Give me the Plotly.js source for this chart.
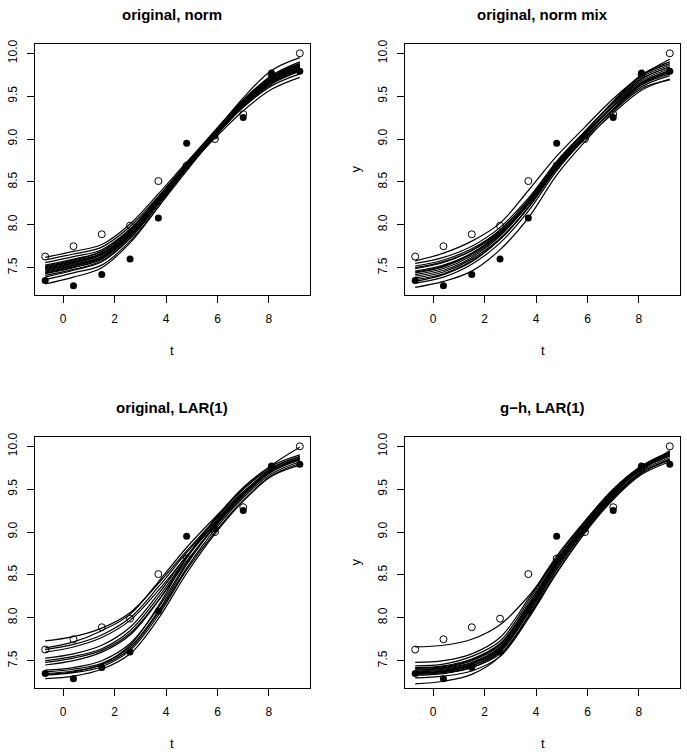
<!DOCTYPE html>
<html>
<head>
<meta charset="utf-8">
<script src="https://cdn.plot.ly/plotly-3.0.1.min.js"></script>
<style>html,body{margin:0;padding:0;background:#fff;}#chart{width:687px;height:754px;}</style>
</head>
<body>
<div id="chart"></div>
<script>
// Observation times
const t = [-0.7, 0.4, 1.5, 2.6, 3.7, 4.8, 5.9, 7.0, 8.1, 9.2];
// Open circles (series 1) and filled circles (series 2)
const openY   = [7.63, 7.75, 7.89, 7.99, 8.51, 8.69, 9.00, 9.29, 9.75, 10.00];
const filledY = [7.35, 7.29, 7.42, 7.60, 8.08, 8.95, 9.04, 9.25, 9.77, 9.79];

const panelTitles = ["original, norm", "original, norm mix", "original, LAR(1)", "g\u2212h, LAR(1)"];
const xTickVals = [0, 2, 4, 6, 8];
const yTickVals = [7.5, 8.0, 8.5, 9.0, 9.5, 10.0];
const yTickText = ["7.5", "8.0", "8.5", "9.0", "9.5", "10.0"];

// Fitted curves read at the observation times, panel by panel
const curvesNorm = [
  [7.62,7.69,7.77,8.01,8.36,8.73,9.08,9.41,9.66,9.80],
  [7.59,7.66,7.74,7.98,8.33,8.70,9.04,9.37,9.62,9.76],
  [7.56,7.63,7.71,7.95,8.29,8.66,9.01,9.33,9.58,9.72],
  [7.53,7.60,7.69,7.94,8.31,8.70,9.06,9.41,9.67,9.82],
  [7.51,7.58,7.67,7.93,8.31,8.70,9.08,9.43,9.70,9.85],
  [7.49,7.56,7.65,7.91,8.29,8.68,9.06,9.41,9.68,9.83],
  [7.48,7.55,7.65,7.91,8.29,8.70,9.08,9.44,9.72,9.87],
  [7.46,7.53,7.63,7.89,8.27,8.67,9.06,9.41,9.69,9.84],
  [7.45,7.52,7.62,7.88,8.25,8.65,9.03,9.39,9.66,9.81],
  [7.43,7.50,7.60,7.87,8.26,8.68,9.07,9.44,9.73,9.88],
  [7.41,7.48,7.58,7.85,8.24,8.66,9.05,9.42,9.71,9.86],
  [7.39,7.47,7.57,7.84,8.24,8.67,9.07,9.45,9.74,9.90],
  [7.36,7.44,7.53,7.81,8.21,8.63,9.03,9.40,9.69,9.85],
  [7.31,7.39,7.50,7.79,8.21,8.66,9.08,9.48,9.80,9.95],
  [7.47,7.54,7.63,7.89,8.26,8.66,9.03,9.38,9.65,9.80],
  [7.50,7.57,7.66,7.91,8.28,8.67,9.03,9.38,9.64,9.79],
  [7.44,7.51,7.61,7.87,8.26,8.66,9.05,9.41,9.69,9.84],
  [7.52,7.59,7.69,7.95,8.32,8.72,9.10,9.46,9.73,9.88]
];
const curvesNormMix = [
  [7.58,7.67,7.81,8.02,8.40,8.80,9.14,9.47,9.74,9.93],
  [7.55,7.62,7.75,7.97,8.31,8.73,9.07,9.38,9.65,9.78],
  [7.52,7.59,7.72,7.94,8.28,8.70,9.03,9.34,9.61,9.74],
  [7.49,7.56,7.70,7.94,8.29,8.74,9.09,9.42,9.70,9.84],
  [7.46,7.53,7.67,7.91,8.26,8.70,9.05,9.38,9.66,9.80],
  [7.44,7.51,7.66,7.90,8.26,8.72,9.09,9.42,9.72,9.86],
  [7.42,7.49,7.64,7.88,8.24,8.69,9.05,9.39,9.68,9.82],
  [7.40,7.47,7.62,7.87,8.24,8.71,9.09,9.43,9.74,9.88],
  [7.38,7.45,7.60,7.84,8.20,8.65,9.01,9.35,9.64,9.78],
  [7.36,7.43,7.58,7.83,8.20,8.67,9.05,9.39,9.70,9.84],
  [7.34,7.42,7.57,7.83,8.21,8.70,9.08,9.44,9.75,9.90],
  [7.32,7.39,7.54,7.79,8.16,8.63,9.01,9.35,9.66,9.80],
  [7.45,7.52,7.66,7.89,8.24,8.67,9.02,9.34,9.63,9.76],
  [7.50,7.57,7.70,7.92,8.25,8.67,9.00,9.30,9.57,9.70],
  [7.27,7.34,7.46,7.71,8.08,8.58,8.97,9.32,9.59,9.69]
];
const curvesLar = [
  [7.73,7.78,7.88,8.06,8.40,8.78,9.14,9.47,9.72,9.86],
  [7.65,7.72,7.85,8.04,8.42,8.82,9.17,9.50,9.75,9.88],
  [7.63,7.69,7.80,8.00,8.36,8.76,9.12,9.46,9.72,9.86],
  [7.60,7.66,7.77,7.97,8.32,8.72,9.09,9.43,9.70,9.84],
  [7.53,7.58,7.68,7.89,8.28,8.72,9.10,9.45,9.72,9.86],
  [7.50,7.55,7.64,7.85,8.24,8.70,9.10,9.46,9.74,9.88],
  [7.48,7.53,7.62,7.82,8.20,8.66,9.06,9.42,9.71,9.85],
  [7.39,7.42,7.50,7.70,8.12,8.64,9.08,9.45,9.72,9.86],
  [7.37,7.40,7.47,7.66,8.08,8.62,9.07,9.44,9.72,9.85],
  [7.35,7.38,7.45,7.64,8.06,8.58,9.03,9.40,9.68,9.82],
  [7.33,7.36,7.43,7.62,8.03,8.56,9.00,9.37,9.66,9.80],
  [7.34,7.37,7.46,7.68,8.14,8.70,9.15,9.52,9.77,9.90],
  [7.29,7.32,7.40,7.58,7.99,8.52,8.98,9.36,9.65,9.78],
  [7.45,7.50,7.60,7.80,8.20,8.70,9.15,9.50,9.78,9.99]
];
const curvesGh = [
  [7.66,7.68,7.75,7.92,8.25,8.68,9.04,9.40,9.71,9.95],
  [7.48,7.50,7.58,7.77,8.22,8.72,9.13,9.50,9.77,9.93],
  [7.44,7.46,7.55,7.73,8.19,8.70,9.12,9.50,9.77,9.94],
  [7.42,7.44,7.52,7.70,8.16,8.67,9.10,9.48,9.76,9.92],
  [7.40,7.42,7.50,7.68,8.14,8.66,9.09,9.47,9.75,9.91],
  [7.39,7.41,7.48,7.66,8.11,8.62,9.06,9.45,9.73,9.89],
  [7.38,7.40,7.47,7.64,8.09,8.61,9.06,9.45,9.74,9.90],
  [7.37,7.39,7.46,7.63,8.08,8.60,9.05,9.44,9.73,9.89],
  [7.36,7.38,7.44,7.61,8.05,8.57,9.03,9.42,9.71,9.87],
  [7.35,7.37,7.44,7.62,8.08,8.62,9.08,9.47,9.76,9.93],
  [7.34,7.36,7.42,7.58,8.01,8.53,9.00,9.40,9.69,9.85],
  [7.33,7.35,7.42,7.60,8.06,8.60,9.06,9.46,9.75,9.92],
  [7.30,7.32,7.38,7.55,7.99,8.52,8.99,9.38,9.67,9.82],
  [7.23,7.26,7.34,7.55,8.02,8.56,9.02,9.40,9.69,9.84],
  [7.36,7.38,7.46,7.65,8.12,8.65,9.10,9.48,9.76,9.92],
  [7.41,7.43,7.51,7.69,8.13,8.63,9.05,9.42,9.69,9.84]
];

const panels = [curvesNorm, curvesNormMix, curvesLar, curvesGh];
const W = 687, H = 754;
const FONT = "Liberation Sans, Arial, Helvetica, sans-serif";
// plot boxes in pixels [left, right, top, bottom]
const boxes = [[35,310,44,295],[405,680,44,295],[35,310,437,688],[405,680,437,688]];

const traces = [];
const layout = {
  width: W, height: H,
  margin: {l:0, r:0, t:0, b:0},
  paper_bgcolor: "#fff", plot_bgcolor: "#fff",
  showlegend: false,
  font: {family: FONT, size: 12, color: "#000"},
  annotations: []
};

panels.forEach((curves, i) => {
  const k = i === 0 ? "" : String(i + 1);
  const xa = "x" + k, ya = "y" + k;
  traces.push({x: t, y: filledY, xaxis: xa, yaxis: ya, type: "scatter", mode: "markers",
    marker: {symbol: "circle", size: 7, color: "#000"}, hoverinfo: "skip", cliponaxis: false});
  traces.push({x: t, y: openY, xaxis: xa, yaxis: ya, type: "scatter", mode: "markers",
    marker: {symbol: "circle-open", size: 7, color: "#000", line: {width: 1, color: "#000"}}, hoverinfo: "skip", cliponaxis: false});
  curves.forEach(c => {
    traces.push({x: t, y: c, xaxis: xa, yaxis: ya, type: "scatter", mode: "lines",
      line: {color: "#000", width: 1.2, shape: "spline", smoothing: 1}, hoverinfo: "skip"});
  });
  const b = boxes[i];
  const xd = [b[0]/W, b[1]/W], yd = [1 - b[3]/H, 1 - b[2]/H];
  layout["xaxis" + k] = {
    domain: xd, anchor: ya, range: [-1.096, 9.596],
    tickvals: xTickVals, ticks: "outside", ticklen: 7, tickwidth: 1, tickcolor: "#000",
    showline: true, mirror: true, linecolor: "#000", linewidth: 1,
    showgrid: false, zeroline: false, tickfont: {family: FONT, size: 12, color: "#000"},
    ticklabelstandoff: 6, fixedrange: true
  };
  layout["yaxis" + k] = {
    domain: yd, anchor: xa, range: [7.1816, 10.1084],
    tickvals: yTickVals, ticktext: yTickText, tickangle: -90,
    ticks: "outside", ticklen: 7, tickwidth: 1, tickcolor: "#000",
    showline: true, mirror: true, linecolor: "#000", linewidth: 1,
    showgrid: false, zeroline: false, tickfont: {family: FONT, size: 12, color: "#000"},
    ticklabelstandoff: 5, fixedrange: true
  };
  const cx = (b[0] + b[1]) / 2 / W;
  layout.annotations.push({text: "<b>" + panelTitles[i] + "</b>", xref: "paper", yref: "paper",
    x: cx, y: 1 - (b[2] - 30) / H, xanchor: "center", yanchor: "middle", showarrow: false,
    font: {family: FONT, size: 15, color: "#000"}});
  layout.annotations.push({text: "t", xref: "paper", yref: "paper",
    x: cx, y: 1 - (b[3] + 55) / H, xanchor: "center", yanchor: "middle", showarrow: false,
    font: {family: FONT, size: 13, color: "#000"}});
  if (i === 1 || i === 3) {
    layout.annotations.push({text: "y", xref: "paper", yref: "paper",
      x: (b[0] - 50) / W, y: 1 - (b[2] + b[3]) / 2 / H, xanchor: "center", yanchor: "middle",
      textangle: -90, showarrow: false, font: {family: FONT, size: 13, color: "#000"}});
  }
});

Plotly.newPlot("chart", traces, layout, {staticPlot: true, displayModeBar: false});
</script>
</body>
</html>
